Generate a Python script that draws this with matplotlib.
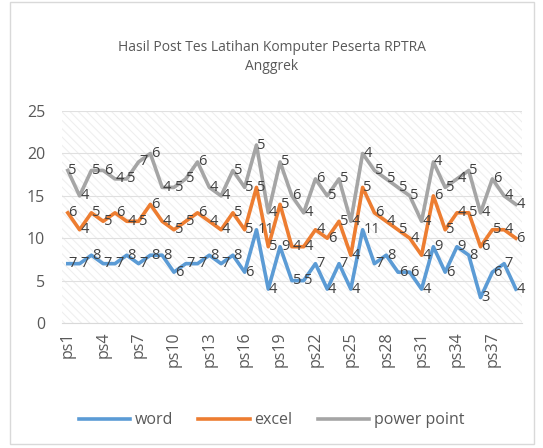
import matplotlib.pyplot as plt
from matplotlib.patches import Rectangle

participants = [f"ps{i}" for i in range(1, 40)]
word = [7, 7, 8, 7, 7, 8, 7, 8, 8, 6, 7, 7, 8, 7, 8, 6, 11, 4, 9, 5,
        5, 7, 4, 7, 4, 11, 7, 8, 6, 6, 4, 9, 6, 9, 8, 3, 6, 7, 4]
excel = [6, 4, 5, 5, 6, 4, 5, 6, 4, 5, 5, 6, 4, 4, 5, 5, 5, 5, 5, 4,
         4, 4, 6, 5, 4, 5, 6, 4, 5, 4, 4, 6, 5, 4, 5, 6, 5, 4, 6]
power_point = [5, 4, 5, 6, 4, 5, 7, 6, 4, 5, 5, 6, 4, 4, 5, 5, 5, 4, 5, 6,
               4, 6, 5, 5, 4, 4, 5, 5, 5, 5, 4, 4, 5, 4, 5, 4, 6, 4, 4]
series_names = ["word", "excel", "power point"]
y_ticks = [0, 5, 10, 15, 20, 25]

plt.rcParams["font.family"] = ["Open Sans", "DejaVu Sans"]
plt.rcParams["hatch.linewidth"] = 0.8
text_color = "#595959"
label_color = "#404040"
colors = ["#5B9BD5", "#ED7D31", "#A5A5A5"]

fig = plt.figure(figsize=(5.43, 4.48), dpi=100, facecolor="white")
fig.patches.append(Rectangle((0.018, 0.01), 0.965, 0.985, transform=fig.transFigure,
                             fill=False, edgecolor="#d9d9d9", linewidth=1.0))
ax = fig.add_axes([0.114, 0.279, 0.847, 0.473])

x = list(range(len(participants)))
# stacked line chart: each line sits on top of the previous one
cum1 = word
cum2 = [a + b for a, b in zip(word, excel)]
cum3 = [a + b for a, b in zip(cum2, power_point)]
stacks = [(cum1, word), (cum2, excel), (cum3, power_point)]

ax.add_patch(Rectangle((0, 0), 1, 1, transform=ax.transAxes, facecolor="white",
                       edgecolor="#efefef", hatch="\\\\\\\\", linewidth=0, zorder=0))

for (top, vals), color, name in zip(stacks, colors, series_names):
    ax.plot(x, top, color=color, linewidth=2.6, label=name, zorder=3, solid_joinstyle="round")
    for xi, yi, v in zip(x, top, vals):
        ax.annotate(str(v), (xi, yi), xytext=(0.5, 0), textcoords="offset points",
                    ha="left", va="center", fontsize=10.5, color=label_color, zorder=4)

ax.set_xlim(-0.5, len(participants) - 0.5)
ax.set_ylim(0, 25)
ax.set_yticks(y_ticks)
ax.set_xticks(x[::3])
ax.set_xticklabels(participants[::3], rotation=90, fontsize=11.5, color=text_color)
ax.tick_params(axis="y", labelsize=11.5, labelcolor=text_color, length=0, pad=12)
ax.tick_params(axis="x", length=0, pad=6)
ax.grid(axis="y", color="#e0e0e0", linewidth=0.8, zorder=1)
for side in ["top", "right", "left"]:
    ax.spines[side].set_visible(False)
ax.spines["bottom"].set_color("#d9d9d9")
ax.set_axisbelow(True)

fig.text(0.5, 0.872, "Hasil Post Tes Latihan Komputer Peserta RPTRA\nAnggrek", ha="center",
         va="center", fontsize=10, color=text_color, linespacing=1.35)

handles, labels = ax.get_legend_handles_labels()
fig.legend(handles, labels, loc="center", bbox_to_anchor=(0.5, 0.062), ncol=3, frameon=False,
           fontsize=11.5, labelcolor=text_color, handlelength=3.2, columnspacing=1.6,
           handletextpad=0.3)

fig.savefig("out.png", dpi=100, facecolor="white")
